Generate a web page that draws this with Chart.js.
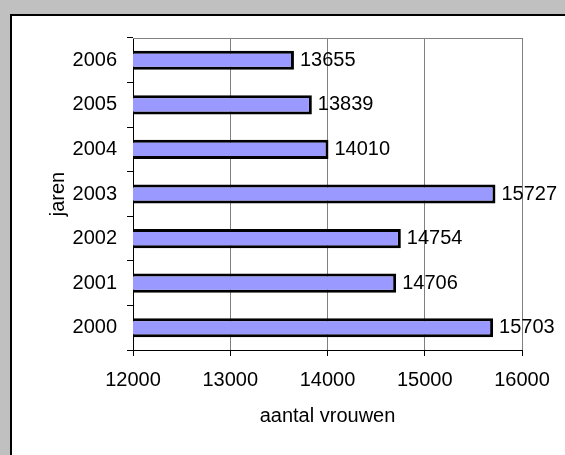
<!DOCTYPE html>
<html>
<head>
<meta charset="utf-8">
<script src="https://cdn.jsdelivr.net/npm/chart.js@4/dist/chart.umd.min.js"></script>
<style>
    html, body { margin: 0; padding: 0; background: #c0c0c0; width: 565px; height: 455px; overflow: hidden; }
    #frame { position: absolute; left: 10px; top: 14px; width: 553px; height: 441px; border-left: 2px solid #000; border-top: 2px solid #000; background: #fff; }
    #wrap { position: absolute; left: 0; top: 0; width: 553px; height: 439px; }
</style>
</head>
<body>
<div id="frame"><div id="wrap"><canvas id="vrouwenChart"></canvas></div></div>
<script>
// Gegevens uit de grafiek
const years = ['2000', '2001', '2002', '2003', '2004', '2005', '2006'];
const counts = [15703, 14706, 14754, 15727, 14010, 13839, 13655];
const xTicks = [12000, 13000, 14000, 15000, 16000];

const fontFamily = '"Liberation Sans", Arial, sans-serif';

// waarden rechts naast de balken
const valueLabels = {
    id: 'valueLabels',
    afterDatasetsDraw(chart) {
        const ctx = chart.ctx;
        const meta = chart.getDatasetMeta(0);
        ctx.save();
        ctx.font = '20px ' + fontFamily;
        ctx.fillStyle = '#000';
        ctx.textAlign = 'left';
        ctx.textBaseline = 'middle';
        meta.data.forEach((bar, i) => {
            ctx.fillText(String(counts[i]), bar.x + 6, bar.y);
        });
        ctx.restore();
    }
};

// grijze bovenrand van het plotvlak
const topBorder = {
    id: 'topBorder',
    beforeDatasetsDraw(chart) {
        const { ctx, chartArea } = chart;
        ctx.save();
        ctx.strokeStyle = '#808080';
        ctx.lineWidth = 1;
        ctx.beginPath();
        ctx.moveTo(chartArea.left, Math.round(chartArea.top) + 0.5);
        ctx.lineTo(chartArea.right, Math.round(chartArea.top) + 0.5);
        ctx.stroke();
        ctx.restore();
    }
};

const ctx = document.getElementById('vrouwenChart').getContext('2d');

new Chart(ctx, {
    type: 'bar',
    data: {
        labels: years,
        datasets: [{
            data: counts,
            backgroundColor: '#9999ff',
            borderColor: '#000',
            borderWidth: 3,
            borderSkipped: false,
            categoryPercentage: 1,
            barPercentage: 0.43
        }]
    },
    options: {
        indexAxis: 'y',
        responsive: true,
        maintainAspectRatio: false,
        animation: false,
        layout: {
            padding: { top: 22, right: 43, left: 0, bottom: 0 }
        },
        plugins: {
            legend: { display: false },
            tooltip: { enabled: false }
        },
        scales: {
            x: {
                min: 12000,
                max: 16000,
                afterBuildTicks: (scale) => {
                    scale.ticks = xTicks.map(v => ({ value: v }));
                },
                afterFit: (scale) => { scale.height = 105; },
                grid: { color: '#808080', tickColor: '#000', tickLength: 6 },
                border: { color: '#000', width: 1 },
                ticks: {
                    color: '#000',
                    padding: 12,
                    maxRotation: 0,
                    callback: (value) => String(value),
                    font: { family: fontFamily, size: 20 }
                },
                title: {
                    display: true,
                    text: 'aantal vrouwen',
                    color: '#000',
                    padding: { top: 0, bottom: 27 },
                    font: { family: fontFamily, size: 20 }
                }
            },
            y: {
                reverse: true,
                afterFit: (scale) => { scale.width = 121; },
                grid: { drawOnChartArea: false, offset: true, color: '#000', tickLength: 6 },
                border: { color: '#000', width: 1 },
                ticks: {
                    color: '#000',
                    padding: 10,
                    font: { family: fontFamily, size: 20 }
                },
                title: {
                    display: true,
                    text: 'jaren',
                    color: '#000',
                    padding: { top: 34, bottom: 0 },
                    font: { family: fontFamily, size: 20 }
                }
            }
        }
    },
    plugins: [topBorder, valueLabels]
});
</script>
</body>
</html>
